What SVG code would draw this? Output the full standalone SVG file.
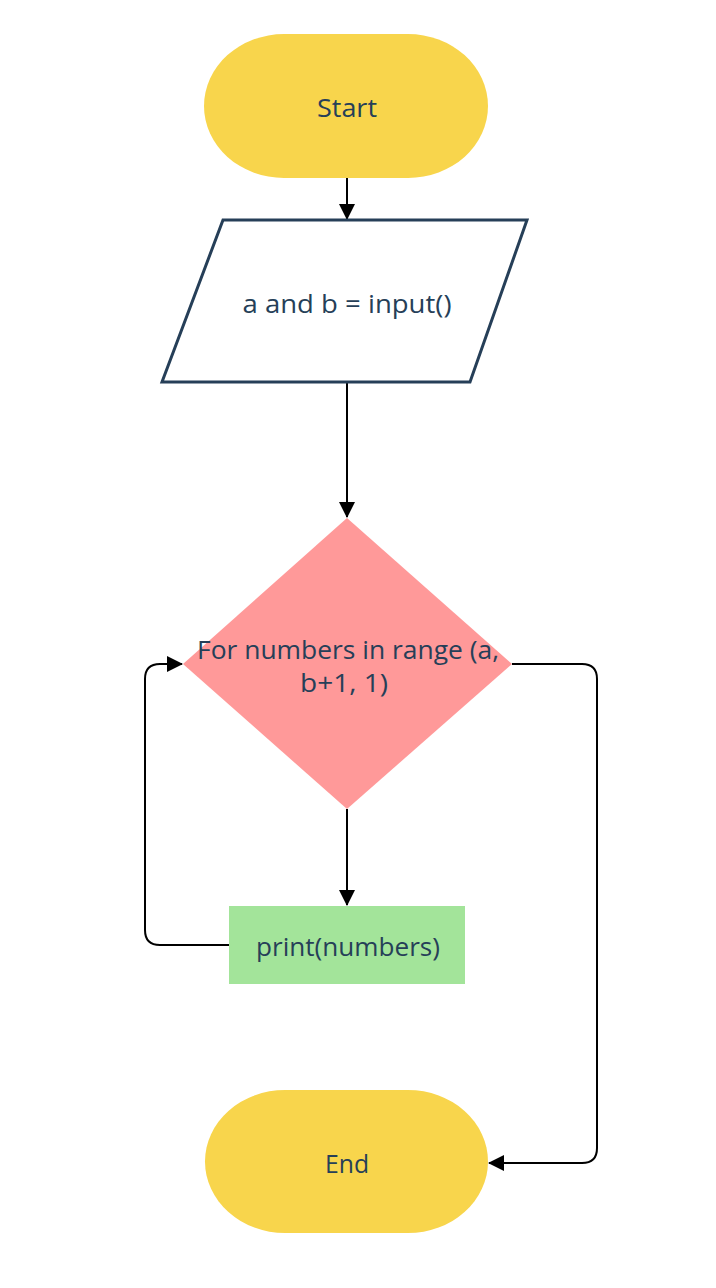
<svg xmlns="http://www.w3.org/2000/svg" width="716" height="1288" viewBox="0 0 716 1288">
<defs>
<style>
.t{font-family:"Open Sans","Liberation Sans",sans-serif;font-size:25px;fill:#263f58;text-anchor:middle}
.c{fill:none;stroke:#000;stroke-width:2}
.term{fill:#f8d54c}
</style>
<marker id="ah" markerWidth="16" markerHeight="16" refX="15" refY="8" orient="auto" markerUnits="userSpaceOnUse">
<path d="M0,0 L16,8 L0,16 Z" fill="#000"/>
</marker>
</defs>
<rect width="716" height="1288" fill="#fff"/>
<g id="connectors">
<path class="c" d="M347,178 V219" marker-end="url(#ah)"/>
<path class="c" d="M347,383 V517" marker-end="url(#ah)"/>
<path class="c" d="M347,809 V905" marker-end="url(#ah)"/>
<path class="c" d="M229,945 H160 Q145,945 145,930 V679 Q145,664 160,664 H182" marker-end="url(#ah)"/>
<path class="c" d="M512,664 H582 Q597,664 597,679 V1148 Q597,1163 582,1163 H489" marker-end="url(#ah)"/>
</g>
<g id="start">
<rect class="term" x="204" y="34" width="284" height="144" rx="80" ry="72"/>
<text class="t" x="347" y="117" textLength="60" lengthAdjust="spacingAndGlyphs">Start</text>
</g>
<g id="input">
<polygon points="223,220 527,220 470,382 162,382" fill="#fff" stroke="#263f58" stroke-width="3"/>
<text class="t" x="347" y="313" textLength="209" lengthAdjust="spacingAndGlyphs">a and b = input()</text>
</g>
<g id="decision">
<polygon points="347,518 512,664 347,809 183,664" fill="#ff9999"/>
<text class="t" x="348" y="659" textLength="302" lengthAdjust="spacingAndGlyphs">For numbers in range (a,</text>
<text class="t" x="344" y="692" textLength="88" lengthAdjust="spacingAndGlyphs">b+1, 1)</text>
</g>
<g id="print">
<rect x="229" y="906" width="236" height="78" fill="#a3e49a"/>
<text class="t" x="348" y="956" textLength="184" lengthAdjust="spacingAndGlyphs">print(numbers)</text>
</g>
<g id="end">
<rect class="term" x="205" y="1090" width="283" height="143" rx="80" ry="72"/>
<text class="t" x="347" y="1173" textLength="44" lengthAdjust="spacingAndGlyphs">End</text>
</g>
</svg>
